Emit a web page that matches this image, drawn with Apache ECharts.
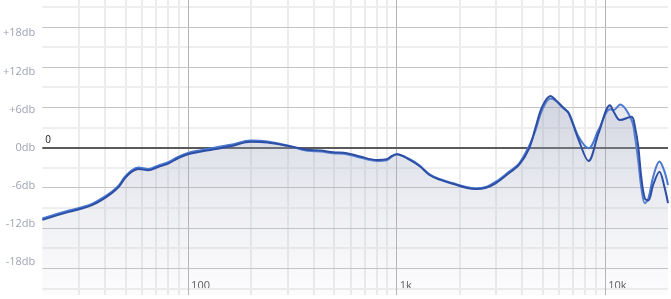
<!DOCTYPE html>
<html>
<head>
<meta charset="utf-8">
<script src="https://cdn.jsdelivr.net/npm/echarts@6/dist/echarts.min.js"></script>
<style>
html,body{margin:0;padding:0;background:#fff;}
#c{width:671px;height:299px;}
</style>
</head>
<body>
<div id="c"></div>
<script>
// Frequencies (Hz)
var freqs = [20, 26.8, 31, 34.6, 38.6, 43, 46.4, 49.7, 53.7, 57.7, 64.4, 71.9, 80.2, 89.5, 99.8, 115.6, 160, 200, 240, 300, 372, 431, 497, 577, 668, 802, 896, 945, 1000, 1156, 1290, 1438, 1606, 1854, 2152, 2402, 2680, 2992, 3460, 3861, 4309, 4636, 4986, 5468, 5777, 6325, 6681, 7456, 8318, 9283, 10550, 11000, 11776, 13372, 13900, 14394, 14900, 15487, 16100, 17000, 18200, 19200, 20000];
// Dark series (dB)
var darkDb = [-10.8, -9.6, -9.1, -8.6, -7.8, -6.8, -5.9, -4.6, -3.6, -3.2, -3.4, -2.9, -2.4, -1.6, -1.0, -0.6, 0.2, 0.85, 0.75, 0.25, -0.35, -0.45, -0.7, -0.85, -1.35, -1.85, -1.75, -1.3, -1.0, -1.85, -2.8, -4.1, -4.8, -5.4, -6.0, -6.2, -6.0, -5.3, -3.8, -2.6, -0.2, 3.0, 6.1, 7.7, 7.1, 5.9, 5.1, 1.15, -2.0, 2.1, 6.3, 5.3, 4.1, 4.6, 3.0, 0.2, -4.5, -7.6, -7.9, -5.5, -3.6, -5.8, -8.3];
// Light series (dB)
var lightDb = [-10.6, -9.4, -8.9, -8.4, -7.6, -6.6, -5.7, -4.4, -3.4, -3.0, -3.2, -2.7, -2.2, -1.4, -0.8, -0.4, 0.4, 1.05, 0.9, 0.3, -0.5, -0.6, -0.85, -1.0, -1.5, -2.0, -1.9, -1.4, -1.0, -1.75, -2.7, -4.0, -4.7, -5.3, -5.9, -6.1, -5.9, -5.1, -3.6, -2.4, 0.2, 2.6, 5.6, 7.3, 7.0, 5.8, 5.2, 1.6, -0.1, 2.6, 5.7, 5.6, 6.4, 4.1, 1.5, -2.0, -6.0, -8.3, -7.6, -4.3, -2.1, -3.5, -5.6];
// Tick labels
var yTicks = [18, 12, 6, 0, -6, -12, -18];
var yTickLabels = ['+18db', '+12db', '+6db', '0db', '-6db', '-12db', '-18db'];
var xMajor = [100, 1000, 10000];
var xMajorLabels = ['100', '1k', '10k'];
var xMinor = [30, 40, 50, 60, 70, 80, 90, 200, 300, 400, 500, 600, 700, 800, 900, 2000, 3000, 4000, 5000, 6000, 7000, 8000, 9000];
var yMinor = [-21, -15, -9, -3, 3, 9, 15, 21];
var yMajor = [-18, -12, -6, 6, 12, 18];

var gridLines = [];
xMinor.forEach(function (f) { gridLines.push({ xAxis: f, lineStyle: { color: '#ececec', width: 2, type: 'solid' } }); });
yMinor.forEach(function (v) { gridLines.push({ yAxis: v, lineStyle: { color: '#eeeeee', width: 2, type: 'solid' } }); });
xMajor.forEach(function (f) { gridLines.push({ xAxis: f, lineStyle: { color: '#b4b4b4', width: 1, type: 'solid' } }); });
yMajor.forEach(function (v) { gridLines.push({ yAxis: v, lineStyle: { color: '#c4c4c4', width: 1.2, type: 'solid' } }); });
gridLines.push({ yAxis: 0, lineStyle: { color: '#5a5a5a', width: 2, type: 'solid' },
  label: { show: true, position: 'insideStartTop', formatter: '0', color: '#111', fontSize: 10, fontFamily: 'Open Sans', distance: [3, 2] } });

function areaGrad() {
  return new echarts.graphic.LinearGradient(0, 0, 0, 1, [
    { offset: 0, color: 'rgba(140,150,180,0.33)' },
    { offset: 1, color: 'rgba(200,200,212,0.04)' }
  ]);
}

var chart = echarts.init(document.getElementById('c'), null, { renderer: 'canvas' });
chart.setOption({
  animation: false,
  backgroundColor: '#ffffff',
  grid: { left: 40, right: 0, top: 0, bottom: 4, containLabel: false },
  xAxis: {
    type: 'log', logBase: 10, min: 20, max: 20000,
    axisLine: { show: false }, axisTick: { show: false }, splitLine: { show: false },
    axisLabel: {
      inside: true, align: 'left', margin: 4, fontSize: 11, color: '#555', fontFamily: 'Open Sans',
      padding: [0, 0, 0, 3],
      formatter: function (v) {
        var e = Math.round(Math.log10(v));
        if (Math.abs(Math.log10(v) - e) > 1e-6) return '';
        var i = xMajor.indexOf(Math.pow(10, e));
        return i >= 0 ? xMajorLabels[i] : '';
      }
    }
  },
  yAxis: [{
    type: 'value', min: -22, max: 22,
    axisLine: { show: false }, axisTick: { show: false }, splitLine: { show: false },
    axisLabel: { show: false }
  }, {
    type: 'value', min: -23.25, max: 23.25, position: 'left',
    axisLine: { show: false }, axisTick: { show: false }, splitLine: { show: false },
    axisLabel: {
      show: true, customValues: yTicks, margin: 7, fontSize: 11, color: '#9ea3b3', fontFamily: 'Open Sans',
      formatter: function (v) { var i = yTicks.indexOf(Math.round(v)); return i >= 0 ? yTickLabels[i] : ''; }
    }
  }],
  series: [{
    type: 'line', data: [], z: 1, silent: true,
    markLine: { silent: true, symbol: ['none', 'none'], z: 1, animation: false, label: { show: false }, emphasis: { disabled: true }, data: gridLines }
  }, {
    name: 'light', type: 'line', z: 2, smooth: 0.35, showSymbol: false, silent: true,
    data: freqs.map(function (f, i) { return [f, lightDb[i]]; }),
    lineStyle: { color: '#4a78d2', width: 2 },
    areaStyle: { color: areaGrad(), origin: 'start' }
  }, {
    name: 'dark', type: 'line', z: 3, smooth: 0.35, showSymbol: false, silent: true,
    data: freqs.map(function (f, i) { return [f, darkDb[i]]; }),
    lineStyle: { color: '#2c4fa5', width: 2 },
    areaStyle: { color: areaGrad(), origin: 'start' }
  }]
});
</script>
</body>
</html>
